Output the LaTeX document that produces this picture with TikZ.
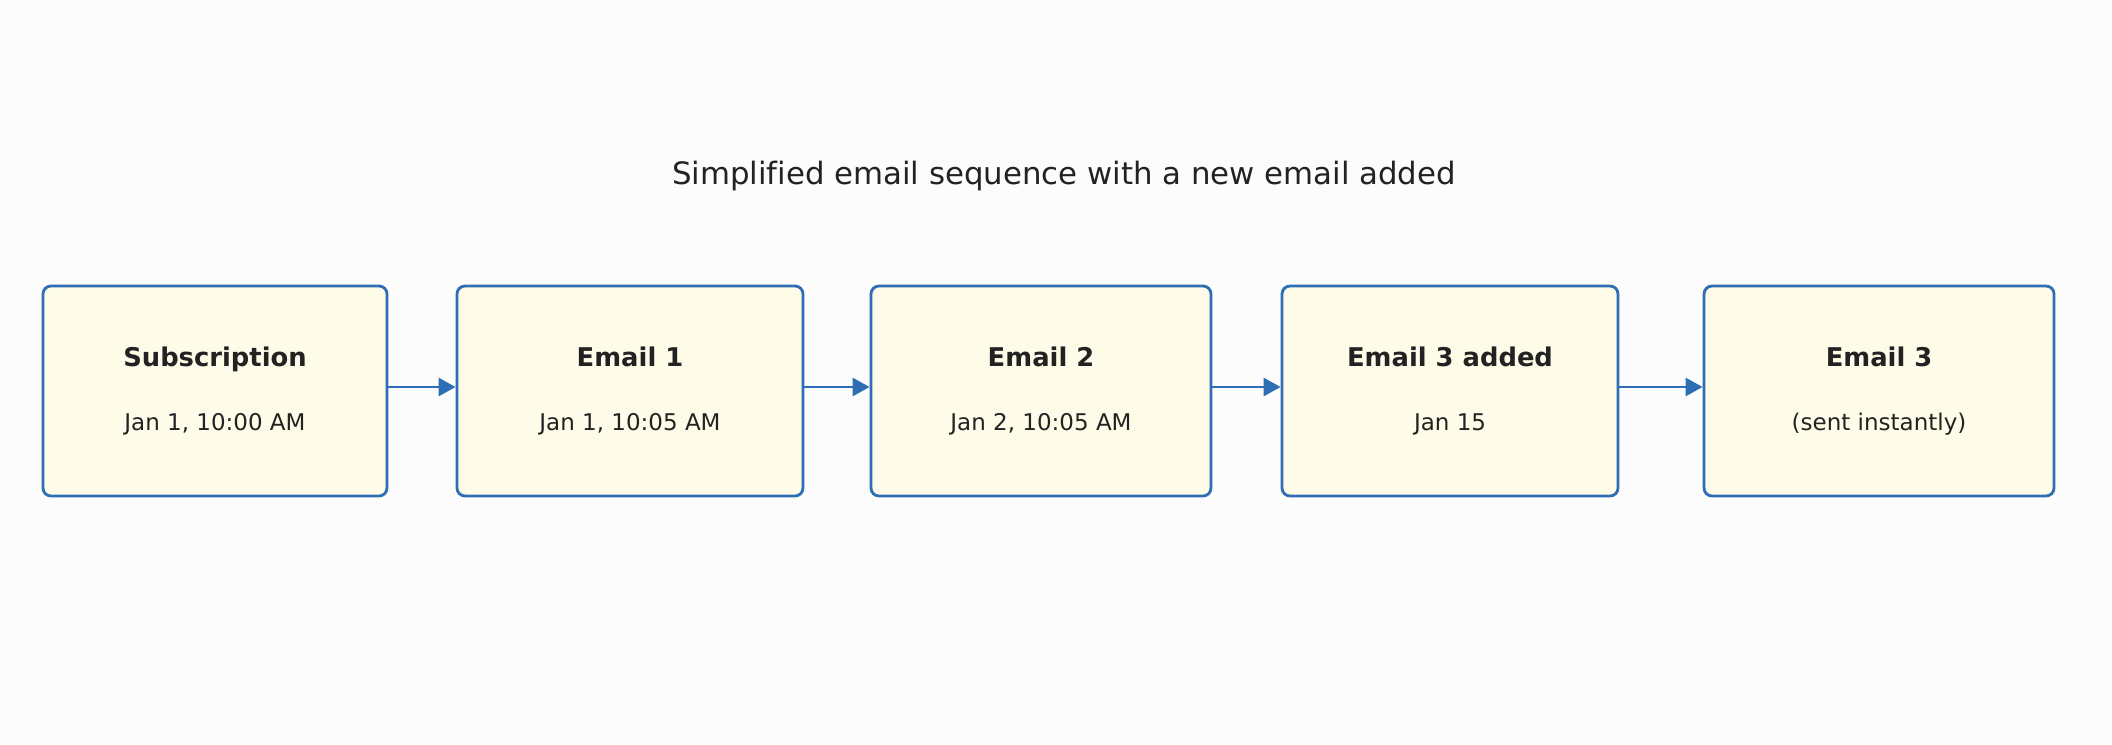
\documentclass[tikz,border=0pt]{standalone}
\usepackage{fontspec}
\setmainfont{DejaVu Sans}[Ligatures=NoCommon]
\usetikzlibrary{arrows.meta}
\definecolor{boxblue}{RGB}{46,110,180}
\definecolor{boxfill}{RGB}{254,252,232}
\definecolor{inktext}{RGB}{34,34,34}
\definecolor{paper}{RGB}{252,252,252}
\begin{document}
\begin{tikzpicture}[x=0.5pt,y=0.5pt,yscale=-1,xscale=1,
    stepbox/.style={draw=boxblue, fill=boxfill, line width=1.4pt, rounded corners=4pt,
        minimum height=105pt, align=center, text=inktext, inner sep=0pt,
        font=\fontsize{11.5}{14}\selectfont},
    flow/.style={draw=boxblue, line width=1.4pt, -{Triangle[length=8.5pt,width=9pt]}}]
%set diagram size
\useasboundingbox[fill=paper] (0,0) rectangle (2112,744);

% Title
\node[text=inktext, font=\fontsize{15.4}{18}\selectfont] (title) at (1064,176) {Simplified email sequence with a new email added};

% Boxes
\node[stepbox, minimum width=172pt] (sub) at (215,391) {{\fontsize{12.9}{15}\selectfont\textbf{Subscription}}\\[18pt]Jan 1, 10:00 AM};
\node[stepbox, minimum width=173pt] (em1) at (630,391) {{\fontsize{12.9}{15}\selectfont\textbf{Email 1}}\\[18pt]Jan 1, 10:05 AM};
\node[stepbox, minimum width=170pt] (em2) at (1041,391) {{\fontsize{12.9}{15}\selectfont\textbf{Email 2}}\\[18pt]Jan 2, 10:05 AM};
\node[stepbox, minimum width=168pt] (add) at (1450,391) {{\fontsize{12.9}{15}\selectfont\textbf{Email 3 added}}\\[18pt]Jan 15};
\node[stepbox, minimum width=175pt] (em3) at (1879,391) {{\fontsize{12.9}{15}\selectfont\textbf{Email 3}}\\[18pt](sent instantly)};

% Arrows
\draw[flow] ([yshift=-2pt]sub.east) -- ([yshift=-2pt]em1.west);
\draw[flow] ([yshift=-2pt]em1.east) -- ([yshift=-2pt]em2.west);
\draw[flow] ([yshift=-2pt]em2.east) -- ([yshift=-2pt]add.west);
\draw[flow] ([yshift=-2pt]add.east) -- ([yshift=-2pt]em3.west);
\end{tikzpicture}
\end{document}
